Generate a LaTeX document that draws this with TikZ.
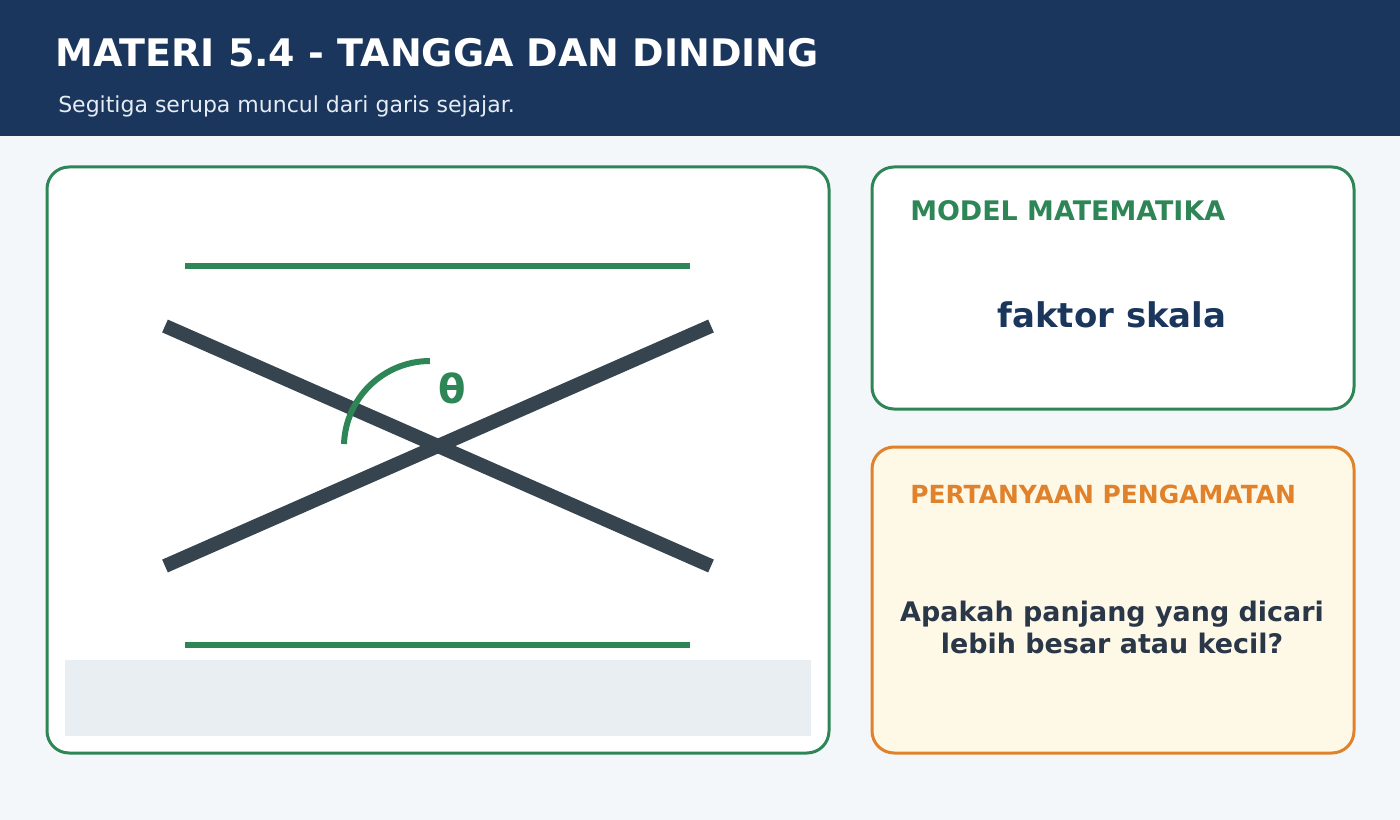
\documentclass[tikz,border=0pt]{standalone}
\usepackage{fontspec}
\setmainfont{DejaVu Sans}
\definecolor{navy}{HTML}{1B365D}
\definecolor{pagebg}{HTML}{F4F7FA}
\definecolor{grn}{HTML}{2E8657}
\definecolor{ladder}{HTML}{35444F}
\definecolor{orng}{HTML}{E0822C}
\definecolor{cream}{HTML}{FEF8E7}
\definecolor{ink}{HTML}{2A3748}
\definecolor{strip}{HTML}{E8EEF2}
\definecolor{subtxt}{HTML}{E6ECF3}

\tikzset{
  panel/.style={line width=2.25pt,rounded corners=16.5pt},
  head/.style={anchor=base west,inner sep=0,font=\fontsize{20.2}{24}\selectfont\bfseries},
  rail/.style={grn,line width=4pt},
  ladderline/.style={ladder,line width=10.5pt}
}

\begin{document}
\begin{tikzpicture}[x=0.75pt,y=0.75pt]
\useasboundingbox (0,0) rectangle (1400,-820);
\fill[pagebg] (0,0) rectangle (1400,-820);

% Header
\fill[navy] (0,0) rectangle (1400,-136);
\node[anchor=base west,inner sep=0,text=white,font=\fontsize{28.5}{34}\selectfont\bfseries] (title) at (55,-67) {MATERI 5.4 - TANGGA DAN DINDING};
\node[anchor=base west,inner sep=0,text=subtxt,font=\fontsize{16.5}{20}\selectfont] (subtitle) at (58,-113) {Segitiga serupa muncul dari garis sejajar.};

% Figure panel
\draw[panel,grn,fill=white] (47,-167) rectangle (829,-753);
\draw[rail] (185,-266) -- (690,-266);
\draw[rail] (185,-645) -- (690,-645);
\draw[ladderline] (165,-326) -- (711,-566);
\draw[ladderline] (165,-566) -- (711,-326);
\draw[grn,line width=4.5pt] (344,-444) arc (178:90:86);
\node[text=grn,font=\fontsize{30}{34}\selectfont\bfseries] (theta) at (452,-388) {θ};
\fill[strip] (65,-660) rectangle (811,-736);

% Model panel
\draw[panel,grn,fill=white] (872,-167) rectangle (1354,-409);
\node[head,text=grn] (modelhead) at (910,-221) {MODEL MATEMATIKA};
\node[anchor=base,inner sep=0,text=navy,font=\fontsize{25.5}{30}\selectfont\bfseries] (model) at (1112,-327) {faktor skala};

% Question panel
\draw[panel,orng,fill=cream] (872,-447) rectangle (1354,-753);
\node[head,text=orng,font=\fontsize{18.7}{22}\selectfont\bfseries] (askhead) at (910,-503) {PERTANYAAN PENGAMATAN};
\node[align=center,inner sep=0,text=ink,font=\fontsize{20.2}{24}\selectfont\bfseries] (ask) at (1112,-627) {Apakah panjang yang dicari\\lebih besar atau kecil?};
\end{tikzpicture}
\end{document}
